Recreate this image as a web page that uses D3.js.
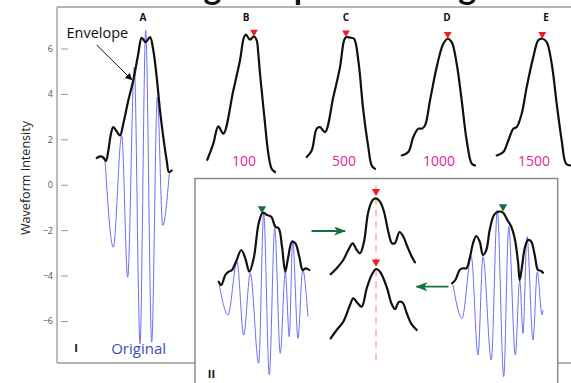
<!DOCTYPE html>
<html><head><meta charset="utf-8">
<script src="https://cdn.jsdelivr.net/npm/d3@7/dist/d3.min.js"></script>
<style>html,body{margin:0;padding:0;background:#fff;}svg{display:block;}</style>
</head><body>
<svg id="c" width="571" height="383"></svg>
<script>
// ---------- data ----------
const yTicks = [-6, -4, -2, 0, 2, 4, 6];
const panelLabels = ["A", "B", "C", "D", "E"];
const stackCounts = ["100", "500", "1000", "1500"];
const titleText = "Long Sample Stacking";

// Panel I (A): envelope and original waveform, [time, intensity]
const envelopeA = [[0.85,1.17],[2.5,1.25],[4.15,1.2],[5.5,1.05],[6.65,1.5],[8,2.25],[9.15,2.54],[10.85,2.35],[12.5,2.17],[14.15,2.69],[16.65,3.71],[19.15,4.6],[21.65,5.77],[23.35,6.47],[25.35,6.28],[27.5,6.5],[29.15,5.92],[30.85,4.74],[32.5,3.27],[34.15,2.1],[35.85,1.07],[37,0.56],[38.35,0.63]];
const originalA = [[5,1.11],[9.15,-2.75],[13.35,2.17],[16.35,-4.07],[19.65,5.18],[22.5,-7.0],[25.35,6.8],[28.35,-6.93],[31.15,3.86],[33.85,-1.79],[37.15,0.5]];

// Stacked envelopes B..E
const envelopeB = [[1.15,1.10],[4.15,1.81],[6.65,2.57],[9.15,2.25],[14.15,4.15],[17.5,5.48],[19.5,6.50],[20.5,6.61],[22.5,6.39],[24.5,6.53],[25.85,6.36],[26.65,5.77],[27.5,4.90],[28.85,3.71],[30,2.70],[31.65,1.38],[33.35,0.70],[35,0.56]];
const envelopeC = [[0.85,1.22],[3.35,1.51],[5.85,2.47],[7.5,2.54],[10,2.32],[14.15,3.86],[17.5,5.18],[19.5,6.35],[20.5,6.50],[22.5,6.48],[24.5,6.43],[26.65,5.48],[29.15,3.27],[31.65,1.66],[33.35,0.85],[35,0.70]];
const envelopeD = [[0.85,1.29],[4.15,1.44],[6.65,2.10],[9.15,2.47],[10.85,2.47],[12.5,2.61],[15,3.71],[18.35,5.18],[21.65,6.21],[23.85,6.43],[25.85,6.28],[28.35,5.33],[30.85,3.71],[33.35,1.95],[35.85,0.93],[37.5,0.85]];
const envelopeE = [[0.85,1.29],[4.15,1.44],[6.65,1.95],[9.15,2.47],[10.85,2.54],[13.35,3.13],[15.85,4.30],[19.15,5.62],[21.65,6.36],[23.65,6.43],[25.85,6.28],[28.35,5.33],[30.85,3.57],[33.35,1.95],[35.5,0.93],[37.5,0.85]];
const peakTimes = [24.5, 20.5, 23.85, 23.65];

// Panel II: two waveforms being aligned, and their envelopes
const envelopeLeft = [[1.85,0.83],[3.15,0.5],[5.15,1.5],[6.85,1.83],[8.5,2.0],[10.5,2.83],[13.15,4.0],[15.15,3.17],[17.15,1.83],[19.35,3.17],[21.85,6.67],[23.85,7.73],[26,7.5],[28.15,7.33],[30.15,6.33],[31.85,6.17],[33.5,4.33],[35.15,1.83],[36.5,3.17],[38.5,4.83],[40.15,4.67],[42.15,3.33],[43.85,2.0],[45.5,2.17],[47.15,2.0]];
const originalLeft = [[2.15,0.5],[6.5,-2.5],[11,2.83],[14.35,-4.5],[17.65,1.67],[21.85,-7.33],[24.35,7.67],[27.15,-8.5],[29.85,6.17],[32.65,-6.33],[35.15,1.83],[37.15,-4.67],[38.85,5.0],[41.5,-4.83],[43.85,2.0],[46.5,-2.67]];
const envelopeRight = [[1,0.67],[2.65,1.0],[4.85,2.0],[6.5,2.17],[8.15,2.17],[9.85,3.17],[11.5,4.67],[13.15,5.4],[14.85,4.83],[16.5,3.5],[18.15,4.0],[19.85,6.0],[22,7.5],[24,7.83],[26.5,7.73],[28.65,7.0],[30.65,6.33],[32.35,5.17],[34,2.83],[34.85,1.0],[36,2.33],[37.35,4.17],[39,5.0],[40.65,4.83],[42.35,3.5],[44,2.0],[45.35,1.93],[46.5,1.73]];
const originalRight = [[1.5,0.5],[6,-2.83],[10.65,3.33],[14,-6.5],[16.5,3.33],[20.65,-7.0],[23.65,8.0],[26.85,-8.67],[29.35,6.33],[32.65,-6.5],[34.85,1.0],[36.5,-4.33],[38.5,5.33],[41.5,-5.0],[43.65,1.83],[46,-2.5],[46.5,-2.0]];
const alignedUpper = [[1.35,0.57],[4.35,1.17],[7.65,2.0],[10.15,3.0],[12.35,3.67],[14.35,3.0],[16,2.67],[18,3.83],[20.15,6.83],[22.35,8.0],[24,8.17],[26,7.83],[28,6.83],[30.15,4.83],[32,3.67],[33.5,3.7],[35.75,4.8],[37.5,4.4],[39.35,3.5],[41.85,2.35],[43.5,1.77]];
const alignedLower = [[1.35,0.67],[4.35,1.5],[7.65,2.33],[11,4.0],[12.65,4.67],[14.85,4.17],[16.85,3.83],[19.35,5.67],[21.85,7.0],[24,7.6],[26,7.33],[29.35,5.8],[31.85,4.1],[33.5,3.6],[35.4,4.3],[37.25,4.25],[39.35,3.2],[41.5,2.17],[44.35,1.5]];
const peakLeft = 23.5, peakRight = 26.5, peakAligned = 24;

// ---------- drawing ----------
const svg = d3.select("#c");
const FONT = "'Open Sans', 'DejaVu Sans', sans-serif";
const BLUE = "#6e6ef8", RED = "#ec1c24", GREEN = "#13703a", PINK = "#e8229a", AXIS = "#9a9a9a";

// truncated title (cut off by the top edge, as in the source figure)
svg.append("text").attr("x", 148).attr("y", -1)
  .attr("font-family", "Lato, " + FONT).attr("font-weight", 700).attr("font-size", 34)
  .attr("fill", "#111").text(titleText);

// main intensity scale
const y = d3.scaleLinear().domain([-6, 6]).range([321, 48.5]);
const xOf = x0 => d3.scaleLinear().domain([0, 50]).range([x0, x0 + 100]);
const xA = xOf(95);
const xStack = [xOf(205), xOf(305), xOf(400), xOf(495)];

// frame
svg.append("line").attr("x1", 57).attr("x2", 571).attr("y1", 7).attr("y2", 7).attr("stroke", AXIS).attr("stroke-width", 1.3);
svg.append("line").attr("x1", 57).attr("x2", 571).attr("y1", 363).attr("y2", 363).attr("stroke", AXIS).attr("stroke-width", 1.3);
svg.append("line").attr("x1", 57).attr("x2", 57).attr("y1", 7).attr("y2", 363).attr("stroke", AXIS).attr("stroke-width", 1.3);

const axis = d3.axisLeft(y).tickValues(yTicks).tickSize(-7).tickPadding(8).tickFormat(d3.format("d"));
const ga = svg.append("g").attr("transform", "translate(61,0)").call(axis);
ga.select(".domain").remove();
ga.selectAll(".tick line").attr("stroke", AXIS).attr("stroke-width", 1);
ga.selectAll(".tick text").attr("font-family", FONT).attr("font-size", 9).attr("fill", "#555");

svg.append("text").attr("transform", "translate(30,178) rotate(-90)")
  .attr("text-anchor", "middle").attr("font-family", FONT).attr("font-size", 12).attr("fill", "#222")
  .attr("textLength", 114).attr("lengthAdjust", "spacingAndGlyphs")
  .text("Waveform Intensity");

const envStyle = sel => sel.attr("fill", "none").attr("stroke", "#111").attr("stroke-width", 2.2)
  .attr("stroke-linejoin", "round").attr("stroke-linecap", "round");
const blueStyle = sel => sel.attr("fill", "none").attr("stroke", BLUE).attr("stroke-width", 1);

function envLine(xs, ys) { return d3.line().x(d => xs(d[0])).y(d => ys(d[1])).curve(d3.curveCatmullRom.alpha(0.5)); }
function waveLine(xs, ys) { return d3.line().x(d => xs(d[0])).y(d => ys(d[1])).curve(d3.curveMonotoneX); }

// Panel A
svg.append("path").attr("d", waveLine(xA, y)(originalA)).call(blueStyle);
svg.append("path").attr("d", envLine(xA, y)(envelopeA)).call(envStyle);

// panel labels
const labelT = [24, 20.5, 20.5, 23.5, 25.5];
const labelScales = [xA].concat(xStack);
panelLabels.forEach((l, i) => {
  svg.append("text").attr("x", labelScales[i](labelT[i])).attr("y", 20.5).attr("text-anchor", "middle")
    .attr("font-family", FONT).attr("font-weight", 700).attr("font-size", 10).attr("fill", "#111").text(l);
});

// Envelope annotation
svg.append("defs").append("marker").attr("id", "ah").attr("viewBox", "0 0 10 10").attr("refX", 9).attr("refY", 5)
  .attr("markerWidth", 7).attr("markerHeight", 7).attr("orient", "auto").attr("markerUnits", "userSpaceOnUse")
  .append("path").attr("d", "M0,0 L10,5 L0,10 z").attr("fill", "#111");
svg.append("text").attr("x", 66.5).attr("y", 38).attr("font-family", FONT).attr("font-size", 14.5).attr("fill", "#111").text("Envelope");
svg.append("line").attr("x1", xA(0.85)).attr("y1", 45).attr("x2", xA(18.4)).attr("y2", y(4.62))
  .attr("stroke", "#111").attr("stroke-width", 1).attr("marker-end", "url(#ah)");

svg.append("text").attr("x", 76).attr("y", 352).attr("text-anchor", "middle").attr("font-family", FONT)
  .attr("font-weight", 700).attr("font-size", 11).attr("fill", "#111").text("I");
svg.append("text").attr("x", xA(21.8)).attr("y", 353.5).attr("text-anchor", "middle").attr("font-family", FONT)
  .attr("font-size", 15).attr("fill", "#3a4cc0").text("Original");

// Stacked envelopes B-E
const tri = d3.symbol().type(d3.symbolTriangle);
[envelopeB, envelopeC, envelopeD, envelopeE].forEach((env, i) => {
  const xs = xStack[i];
  svg.append("path").attr("d", envLine(xs, y)(env)).call(envStyle);
  const pk = env.find(d => d[0] === peakTimes[i]);
  svg.append("path").attr("d", tri.size(26)()).attr("fill", RED)
    .attr("transform", `translate(${xs(pk[0])},${y(pk[1]) - 4.5}) rotate(180)`);
  svg.append("text").attr("x", xs(19.5)).attr("y", 165.5).attr("text-anchor", "middle").attr("font-family", FONT)
    .attr("font-size", 14).attr("fill", PINK).text(stackCounts[i]);
});

// Panel II box
svg.append("rect").attr("x", 195).attr("y", 178.5).attr("width", 362.7).attr("height", 220)
  .attr("fill", "#fff").attr("stroke", "#8c8c8c").attr("stroke-width", 1.5);
svg.append("text").attr("x", 211.5).attr("y", 377.5).attr("text-anchor", "middle").attr("font-family", FONT)
  .attr("font-weight", 700).attr("font-size", 11).attr("fill", "#111").text("II");

const yII = d3.scaleLinear().domain([0, 8]).range([290, 210]);
const yUp = d3.scaleLinear().domain([0, 8]).range([280, 200]);
const yLo = d3.scaleLinear().domain([0, 8]).range([345, 265]);
const xL = xOf(215), xM = xOf(328), xR = xOf(450);

svg.append("path").attr("d", waveLine(xL, yII)(originalLeft)).call(blueStyle);
svg.append("path").attr("d", envLine(xL, yII)(envelopeLeft)).call(envStyle);
svg.append("path").attr("d", waveLine(xR, yII)(originalRight)).call(blueStyle);
svg.append("path").attr("d", envLine(xR, yII)(envelopeRight)).call(envStyle);

function interpAt(arr, t) {
  for (let i = 0; i < arr.length - 1; i++) if (arr[i][0] <= t && arr[i + 1][0] >= t) {
    const a = arr[i], b = arr[i + 1]; return a[1] + (b[1] - a[1]) * (t - a[0]) / (b[0] - a[0]);
  }
  return arr[arr.length - 1][1];
}
// green peak markers
[[xL, envelopeLeft, peakLeft], [xR, envelopeRight, peakRight]].forEach(([xs, env, t]) => {
  svg.append("path").attr("d", tri.size(30)()).attr("fill", GREEN)
    .attr("transform", `translate(${xs(t)},${yII(interpAt(env, t)) - 6}) rotate(180)`);
});

// aligned envelopes
svg.append("line").attr("x1", xM(peakAligned)).attr("x2", xM(peakAligned))
  .attr("y1", yUp(interpAt(alignedUpper, peakAligned)) - 13).attr("y2", yLo(-1.5))
  .attr("stroke", "#f5a3a3").attr("stroke-width", 1.3).attr("stroke-dasharray", "7,5");
svg.append("path").attr("d", envLine(xM, yUp)(alignedUpper)).call(envStyle);
svg.append("path").attr("d", envLine(xM, yLo)(alignedLower)).call(envStyle);
[[yUp, alignedUpper], [yLo, alignedLower]].forEach(([ys, env]) => {
  svg.append("path").attr("d", tri.size(30)()).attr("fill", RED)
    .attr("transform", `translate(${xM(peakAligned)},${ys(interpAt(env, peakAligned)) - 7}) rotate(180)`);
});

// green arrows
svg.append("defs").append("marker").attr("id", "gh").attr("viewBox", "0 0 10 10").attr("refX", 9).attr("refY", 5)
  .attr("markerWidth", 12).attr("markerHeight", 9).attr("orient", "auto").attr("markerUnits", "userSpaceOnUse")
  .attr("preserveAspectRatio", "none")
  .append("path").attr("d", "M0,0 L10,5 L0,10 L2.5,5 z").attr("fill", GREEN);
svg.append("line").attr("x1", 311.5).attr("x2", 345).attr("y1", yII(5.9)).attr("y2", yII(5.9))
  .attr("stroke", GREEN).attr("stroke-width", 1.8).attr("marker-end", "url(#gh)");
svg.append("line").attr("x1", 448.5).attr("x2", 416.5).attr("y1", yII(0.33)).attr("y2", yII(0.33))
  .attr("stroke", GREEN).attr("stroke-width", 1.8).attr("marker-end", "url(#gh)");
</script>
</body></html>
